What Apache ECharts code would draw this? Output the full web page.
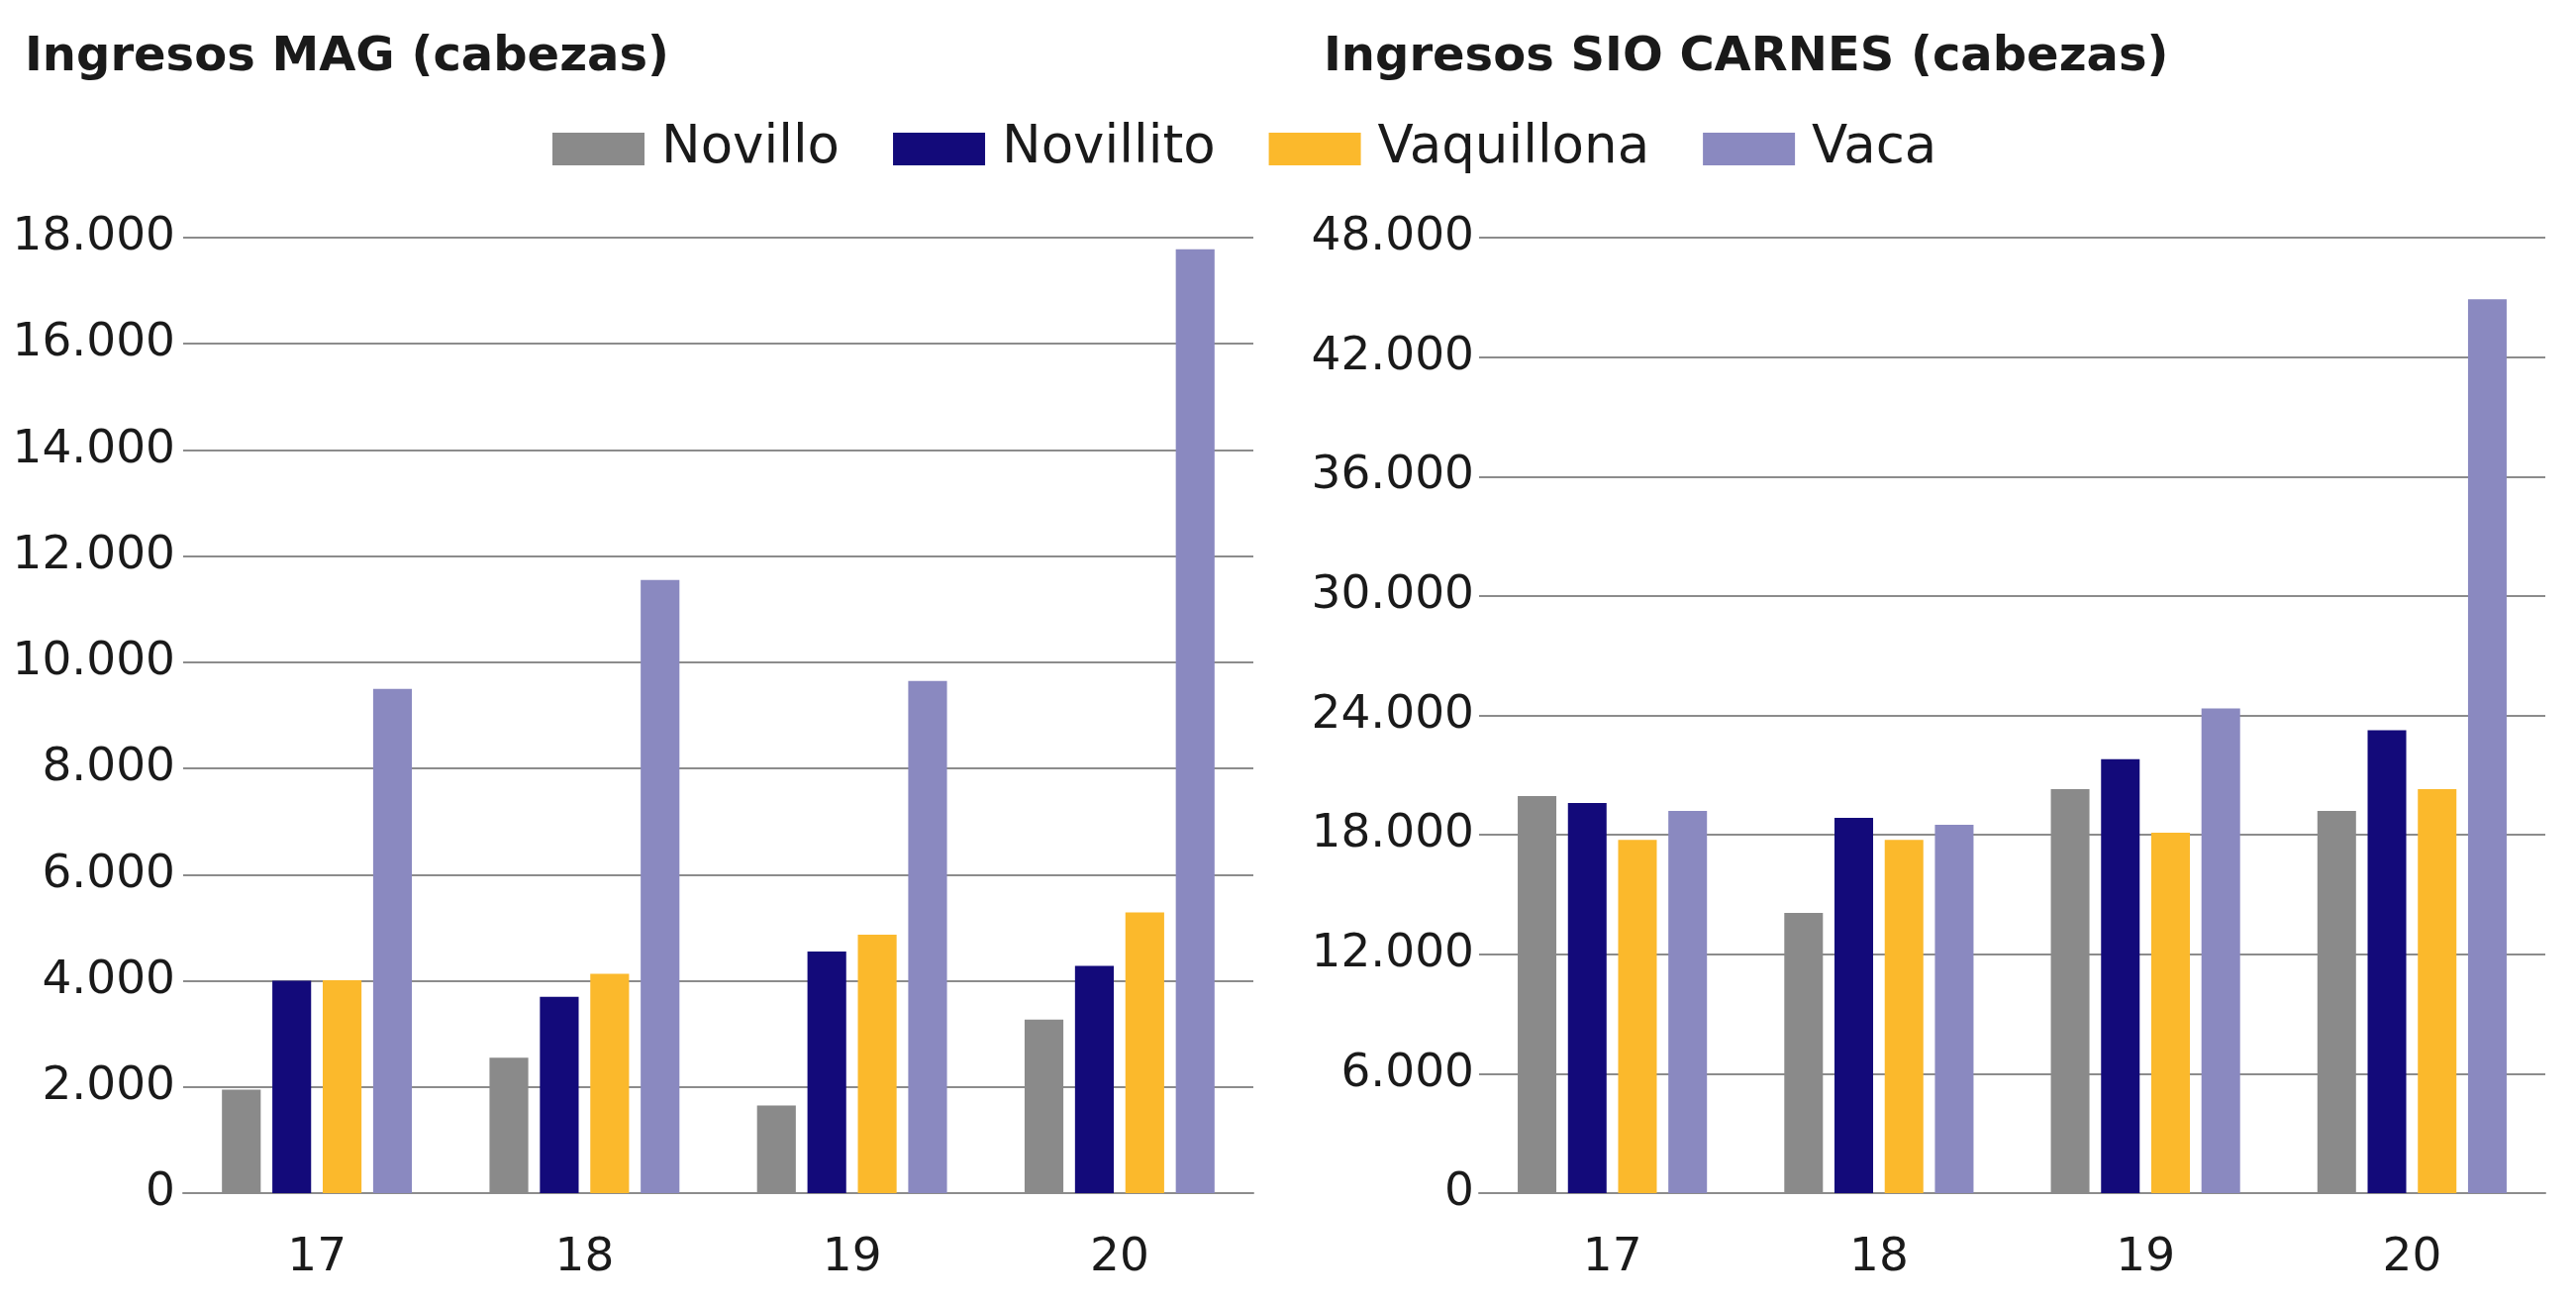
<!DOCTYPE html>
<html>
<head>
<meta charset="utf-8">
<script src="https://cdn.jsdelivr.net/npm/echarts@6/dist/echarts.min.js"></script>
<style>
  html, body { margin: 0; padding: 0; background: #fff; }
  #chart { width: 2602px; height: 1318px; }
</style>
</head>
<body>
<div id="chart"></div>
<script>
var years = ['17', '18', '19', '20'];
var seriesNames = ['Novillo', 'Novillito', 'Vaquillona', 'Vaca'];

// Ingresos MAG (cabezas)
var magNovillo = [1950, 2550, 1650, 3270];
var magNovillito = [4000, 3700, 4550, 4280];
var magVaquillona = [4010, 4130, 4870, 5290];
var magVaca = [9500, 11550, 9650, 17780];

// Ingresos SIO CARNES (cabezas)
var sioNovillo = [19950, 14080, 20300, 19200];
var sioNovillito = [19600, 18850, 21800, 23250];
var sioVaquillona = [17750, 17750, 18100, 20300];
var sioVaca = [19200, 18500, 24350, 44900];

var colors = ['#8a8a8a', '#130a7a', '#fbb92c', '#8a89c0'];
var font = 'DejaVu Sans';

function miles(v) {
  return String(v).replace(/\B(?=(\d{3})+(?!\d))/g, '.');
}

var chartDom = document.getElementById('chart');
var myChart = echarts.init(chartDom);

function yAx(gridIndex, max, interval) {
  return {
    type: 'value',
    gridIndex: gridIndex,
    min: 0,
    max: max,
    interval: interval,
    axisLine: {show: false},
    axisTick: {show: false},
    axisLabel: {
      fontFamily: font, fontSize: 47, color: '#1a1a1a',
      margin: gridIndex === 0 ? 8 : 5,
      formatter: miles
    },
    splitLine: {lineStyle: {color: '#8c8c8c', width: 2}}
  };
}

function xAx(gridIndex) {
  return {
    type: 'category',
    gridIndex: gridIndex,
    data: years,
    axisTick: {show: false},
    axisLine: {lineStyle: {color: '#8c8c8c', width: 2}},
    axisLabel: {fontFamily: font, fontSize: 47, color: '#1a1a1a', margin: 42}
  };
}

function bars(name, data, idx, axisIdx) {
  return {
    name: name,
    type: 'bar',
    xAxisIndex: axisIdx,
    yAxisIndex: axisIdx,
    data: data,
    barGap: '30%',
    barCategoryGap: '29%',
    itemStyle: {color: colors[idx]}
  };
}

var option = {
  animation: false,
  title: [
    {
      text: 'Ingresos MAG (cabezas)',
      left: 20, top: 30,
      textStyle: {fontFamily: font, fontSize: 48, fontWeight: 'bold', color: '#1a1a1a'}
    },
    {
      text: 'Ingresos SIO CARNES (cabezas)',
      left: 1332, top: 30,
      textStyle: {fontFamily: font, fontSize: 48, fontWeight: 'bold', color: '#1a1a1a'}
    }
  ],
  legend: {
    data: seriesNames,
    left: 553,
    top: 119,
    itemWidth: 93,
    itemHeight: 33,
    itemGap: 54,
    icon: 'rect',
    textStyle: {fontFamily: font, fontSize: 53, color: '#1a1a1a', padding: [0, 0, 0, 12]}
  },
  grid: [
    {left: 185, right: 2602 - 1266, top: 240, bottom: 1318 - 1205},
    {left: 1494, right: 2602 - 2571, top: 240, bottom: 1318 - 1205}
  ],
  xAxis: [xAx(0), xAx(1)],
  yAxis: [yAx(0, 18000, 2000), yAx(1, 48000, 6000)],
  series: [
    bars('Novillo', magNovillo, 0, 0),
    bars('Novillito', magNovillito, 1, 0),
    bars('Vaquillona', magVaquillona, 2, 0),
    bars('Vaca', magVaca, 3, 0),
    bars('Novillo', sioNovillo, 0, 1),
    bars('Novillito', sioNovillito, 1, 1),
    bars('Vaquillona', sioVaquillona, 2, 1),
    bars('Vaca', sioVaca, 3, 1)
  ]
};

option && myChart.setOption(option);
</script>
</body>
</html>
